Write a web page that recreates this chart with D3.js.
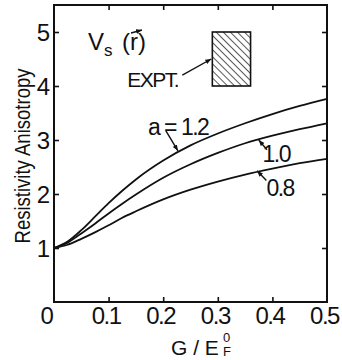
<!DOCTYPE html>
<html>
<head>
<meta charset="utf-8">
<script src="https://cdn.jsdelivr.net/npm/d3@7"></script>
<style>
  body { margin: 0; background: #fff; }
  svg { display: block; }
  text { font-family: "Liberation Sans", Arial, sans-serif; fill: #111; }
</style>
</head>
<body>
<svg id="chart" width="342" height="360"></svg>
<script>
// G / E_F^0 sample points
var gValues = [0, 0.025, 0.05, 0.075, 0.1, 0.125, 0.15, 0.2, 0.25, 0.3, 0.35, 0.4, 0.45, 0.5];
// resistivity anisotropy for each a
var curveA12 = [1.0, 1.12, 1.33, 1.58, 1.83, 2.06, 2.27, 2.62, 2.9, 3.12, 3.31, 3.48, 3.63, 3.76];
var curveA10 = [1.0, 1.1, 1.27, 1.45, 1.64, 1.82, 1.99, 2.3, 2.55, 2.76, 2.94, 3.08, 3.2, 3.31];
var curveA08 = [1.0, 1.06, 1.17, 1.29, 1.42, 1.56, 1.68, 1.9, 2.08, 2.23, 2.36, 2.47, 2.57, 2.65];
var curveLabels = ["a = 1.2", "1.0", "0.8"];
// experimental box
var exptG = [0.29, 0.36];
var exptRange = [4, 5];
var xTicks = [0, 0.1, 0.2, 0.3, 0.4, 0.5];
var yTicks = [1, 2, 3, 4, 5];

var svg = d3.select("#chart"),
    margin = {top: 5, right: 15, bottom: 58, left: 54},
    width = 342 - margin.left - margin.right,
    height = 360 - margin.top - margin.bottom,
    g = svg.append("g").attr("transform", "translate(" + margin.left + "," + margin.top + ")");

var x = d3.scaleLinear().domain([0, 0.5]).range([0, width]);
var y = d3.scaleLinear().domain([0, 5.5]).range([height, 0]);

var defs = svg.append("defs");
var hatch = defs.append("pattern")
    .attr("id", "hatch")
    .attr("patternUnits", "userSpaceOnUse")
    .attr("width", 5).attr("height", 5)
    .attr("patternTransform", "rotate(-45)");
hatch.append("line")
    .attr("x1", 0).attr("y1", 0).attr("x2", 0).attr("y2", 5)
    .attr("stroke", "#111").attr("stroke-width", 1.4);

defs.append("marker")
    .attr("id", "arrow")
    .attr("viewBox", "0 0 10 10")
    .attr("refX", 10).attr("refY", 5)
    .attr("markerWidth", 6).attr("markerHeight", 6)
    .attr("markerUnits", "userSpaceOnUse")
    .attr("orient", "auto")
  .append("path")
    .attr("d", "M0,1 L10,5 L0,9 Z")
    .attr("fill", "#111");

// axes (inward ticks on all four sides)
var fmt = function(d) { return d === 0 ? "0" : d.toFixed(1); };

var xb = g.append("g")
    .attr("transform", "translate(0," + height + ")")
    .call(d3.axisBottom(x).tickValues(xTicks).tickSizeInner(-5).tickSizeOuter(0).tickPadding(5).tickFormat(fmt));
xb.selectAll("text").attr("font-size", 24).attr("letter-spacing", -1.5).attr("dx", function(d) { return d === 0 ? -8 : -3; });

g.append("g")
    .call(d3.axisTop(x).tickValues(xTicks).tickSizeInner(-5).tickSizeOuter(0).tickFormat(""));

var yl = g.append("g")
    .call(d3.axisLeft(y).tickValues(yTicks).tickSizeInner(-5).tickSizeOuter(0).tickPadding(4).tickFormat(d3.format("d")));
yl.selectAll("text").attr("font-size", 24).attr("dy", "0.36em");

g.append("g")
    .attr("transform", "translate(" + width + ",0)")
    .call(d3.axisRight(y).tickValues(yTicks).tickSizeInner(-5).tickSizeOuter(0).tickFormat(""));

g.selectAll(".domain").remove();
g.selectAll(".tick line").attr("stroke", "#111").attr("stroke-width", 1.6);
g.selectAll(".tick").filter(function(d) { return d === 0 || d === 0.5; }).select("line").remove();

g.append("rect")
    .attr("width", width).attr("height", height)
    .attr("fill", "none").attr("stroke", "#111").attr("stroke-width", 2);

// curves
var line = d3.line()
    .x(function(d, i) { return x(gValues[i]); })
    .y(function(d) { return y(d); })
    .curve(d3.curveMonotoneX);

[curveA12, curveA10, curveA08].forEach(function(c) {
  g.append("path").datum(c)
    .attr("d", line)
    .attr("fill", "none")
    .attr("stroke", "#111")
    .attr("stroke-width", 1.8);
});

// curve labels with arrows
var labelSpots = [
  {tx: 0.172, ty: 3.1, from: [0.205, 3.17], to: [0.227, 2.8]},
  {tx: 0.382, ty: 2.6, from: [0.39, 2.82], to: [0.375, 3.0]},
  {tx: 0.389, ty: 1.97, from: [0.389, 2.25], to: [0.372, 2.43]}
];
labelSpots.forEach(function(s, i) {
  g.append("text")
    .attr("x", x(s.tx)).attr("y", y(s.ty))
    .attr("font-size", 23)
    .attr("letter-spacing", -1.5)
    .text(curveLabels[i]);
  g.append("line")
    .attr("x1", x(s.from[0])).attr("y1", y(s.from[1]))
    .attr("x2", x(s.to[0])).attr("y2", y(s.to[1]))
    .attr("stroke", "#111").attr("stroke-width", 1.4)
    .attr("marker-end", "url(#arrow)");
});

// experimental box
g.append("rect")
    .attr("x", x(exptG[0])).attr("y", y(exptRange[1]))
    .attr("width", x(exptG[1]) - x(exptG[0]))
    .attr("height", y(exptRange[0]) - y(exptRange[1]))
    .attr("fill", "url(#hatch)")
    .attr("stroke", "#111").attr("stroke-width", 1.6);

g.append("text")
    .attr("x", x(0.134)).attr("y", y(3.99))
    .attr("font-size", 21)
    .attr("letter-spacing", -1.5)
    .text("EXPT.");
g.append("line")
    .attr("x1", x(0.235)).attr("y1", y(4.2))
    .attr("x2", x(0.288)).attr("y2", y(4.5))
    .attr("stroke", "#111").attr("stroke-width", 1.4)
    .attr("marker-end", "url(#arrow)");

// V_s(r) label
var vs = svg.append("text")
    .attr("x", 88).attr("y", 50)
    .attr("font-size", 24);
vs.append("tspan").text("V");
vs.append("tspan").attr("font-size", 17).attr("dy", 6).text("s");
svg.append("text")
    .attr("x", 122).attr("y", 50)
    .attr("font-size", 24)
    .text("(r)");
svg.append("line")
    .attr("x1", 131).attr("y1", 33).attr("x2", 142).attr("y2", 30)
    .attr("stroke", "#111").attr("stroke-width", 1.3)
    .attr("marker-end", "url(#arrow)");

// axis titles
svg.append("text")
    .attr("transform", "translate(30,156) rotate(-90)")
    .attr("text-anchor", "middle")
    .attr("font-size", 22)
    .attr("textLength", 175)
    .attr("lengthAdjust", "spacingAndGlyphs")
    .text("Resistivity  Anisotropy");

svg.append("text")
    .attr("x", 171).attr("y", 355)
    .attr("font-size", 21)
    .text("G / E");
svg.append("text").attr("x", 223).attr("y", 342).attr("font-size", 13).text("0");
svg.append("text").attr("x", 223).attr("y", 356).attr("font-size", 13).text("F");
</script>
</body>
</html>
